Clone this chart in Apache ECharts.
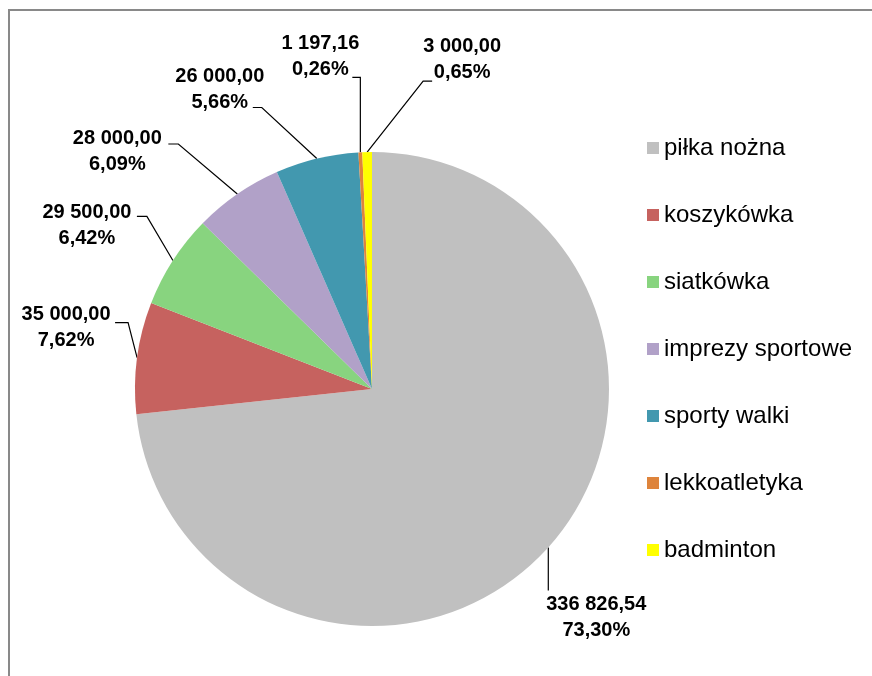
<!DOCTYPE html>
<html>
<head>
<meta charset="utf-8">
<script src="https://cdn.jsdelivr.net/npm/echarts@6/dist/echarts.min.js"></script>
<style>
html,body{margin:0;padding:0;background:#fff;}
#chart{width:872px;height:676px;}
</style>
</head>
<body>
<div id="chart"></div>
<script>
// ---- data ----
const categories = ['piłka nożna', 'koszykówka', 'siatkówka', 'imprezy sportowe', 'sporty walki', 'lekkoatletyka', 'badminton'];
const values = [336826.54, 35000.00, 29500.00, 28000.00, 26000.00, 1197.16, 3000.00];

// ---- styles ----
const colors = ['#C0C0C0', '#C6625F', '#88D47F', '#B1A1C8', '#4298AF', '#DE843C', '#FFFF00'];
// label placement offsets relative to the library-computed slice anchor (px)
const labelDx = [48, -71, -86, -120, -97, -40, 95];
const labelDy = [70, -30, -35, -42, -69, -96, -93];
const bendDx = [0, -9, -26, -59, -55, 0, 56];
const bendDy = [43, -35, -44, -50, -51, -75, -71];
const tickDx = [0, -22, -36, -69, -64, -8, 65];

function fmtNum(v) {
  const s = v.toFixed(2).split('.');
  return s[0].replace(/\B(?=(\d{3})+(?!\d))/g, ' ') + ',' + s[1];
}

const chart = echarts.init(document.getElementById('chart'), null, {renderer: 'canvas'});
chart.setOption({
  animation: false,
  backgroundColor: '#ffffff',
  color: colors,
  graphic: [{
    type: 'rect',
    z: -10,
    shape: {x: 9, y: 10, width: 900, height: 700},
    style: {fill: 'none', stroke: '#898989', lineWidth: 2}
  }],
  legend: {
    orient: 'vertical',
    left: 642,
    top: 131,
    itemWidth: 12,
    itemHeight: 12,
    itemGap: 43,
    icon: 'rect',
    textStyle: {fontFamily: 'Liberation Sans, Arial, sans-serif', fontSize: 24, color: '#000', lineHeight: 24},
    data: categories
  },
  series: [{
    type: 'pie',
    center: [372, 389],
    radius: 237,
    startAngle: 90,
    clockwise: true,
    avoidLabelOverlap: false,
    itemStyle: {borderWidth: 0},
    emphasis: {disabled: true},
    label: {
      show: true,
      position: 'outside',
      width: 130,
      fontFamily: 'Liberation Sans, Arial, sans-serif',
      fontWeight: 'bold',
      fontSize: 20,
      lineHeight: 26,
      color: '#000',
      align: 'center',
      formatter: function (p) {
        return fmtNum(p.value) + '\n' + p.percent.toFixed(2).replace('.', ',') + '%';
      }
    },
    labelLine: {show: true, length: 10, length2: 10, smooth: false, lineStyle: {color: '#000', width: 1.2}},
    labelLayout: function (p) {
      const i = p.dataIndex;
      const a = p.labelLinePoints[0];
      return {
        x: a[0] + labelDx[i],
        y: a[1] + labelDy[i],
        align: 'center',
        verticalAlign: 'middle',
        labelLinePoints: [
          [a[0], a[1]],
          [a[0] + bendDx[i], a[1] + bendDy[i]],
          [a[0] + tickDx[i], a[1] + bendDy[i]]
        ]
      };
    },
    data: categories.map((c, i) => ({name: c, value: values[i]}))
  }]
});
</script>
</body>
</html>
